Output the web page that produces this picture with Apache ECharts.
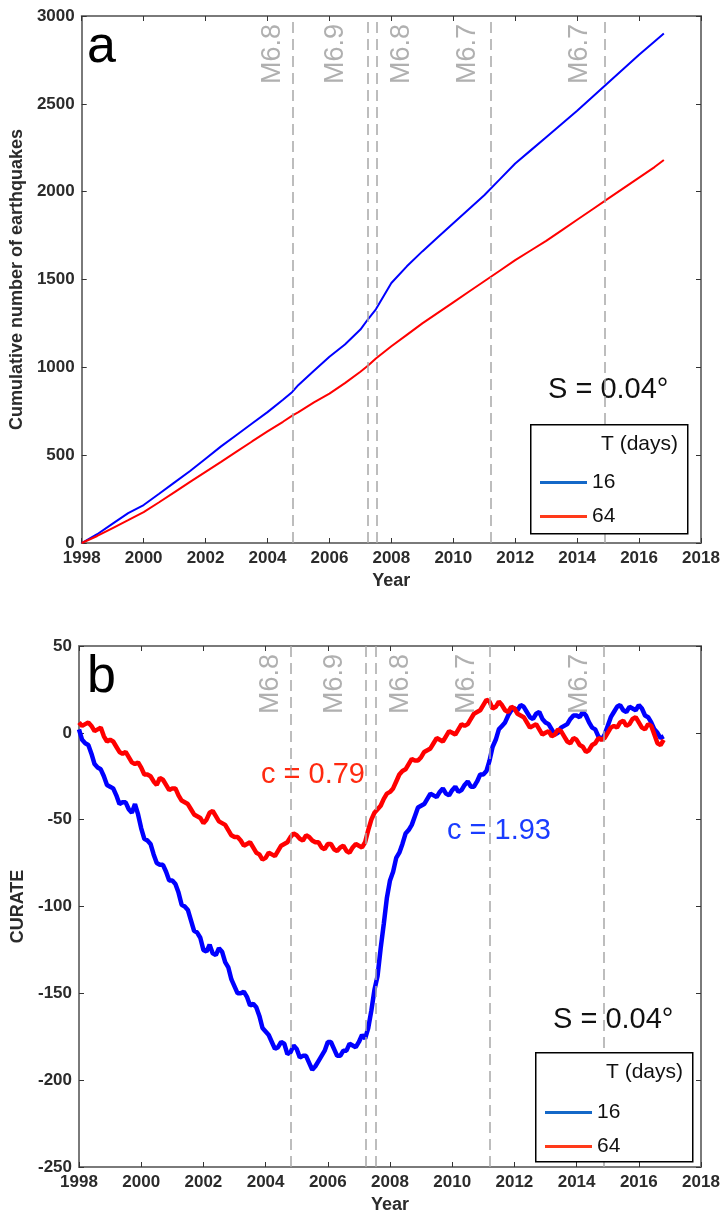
<!DOCTYPE html>
<html>
<head>
<meta charset="utf-8">
<script src="https://cdn.jsdelivr.net/npm/echarts@6/dist/echarts.min.js"></script>
<style>
html,body{margin:0;padding:0;background:#fff;}
#chart{width:724px;height:1215px;}
</style>
</head>
<body>
<div id="chart"></div>
<script>
// ---------- DATA ----------
// Panel a: cumulative number of earthquakes
const cumYears = [1998,1998.5,1999,1999.5,2000,2000.5,2001,2001.5,2002,2002.5,2003,2003.5,2004,2004.5,2004.8,2005,2005.5,2006,2006.5,2007,2007.25,2007.5,2008,2008.5,2009,2009.5,2010,2010.5,2011,2011.5,2012,2012.5,2013,2013.5,2014,2014.5,2015,2015.5,2016,2016.5,2016.8];
const cum16 = [0,50,110,170,216,280,345,410,480,550,615,680,745,815,860,900,980,1060,1130,1215,1275,1330,1480,1575,1660,1740,1820,1900,1980,2070,2160,2235,2310,2385,2460,2540,2620,2700,2780,2855,2900];
const cum64 = [0,40,85,130,176,232,290,348,405,462,520,578,635,690,725,745,800,850,910,975,1010,1050,1120,1185,1250,1310,1370,1430,1490,1550,1610,1665,1720,1780,1840,1900,1960,2020,2080,2140,2180];

// Panel b: CURATE (every 0.1 year)
const curYears = [
1998.0,1998.1,1998.2,1998.3,1998.4,1998.5,1998.6,1998.7,1998.8,1998.9,
1999.0,1999.1,1999.2,1999.3,1999.4,1999.5,1999.6,1999.7,1999.8,1999.9,
2000.0,2000.1,2000.2,2000.3,2000.4,2000.5,2000.6,2000.7,2000.8,2000.9,
2001.0,2001.1,2001.2,2001.3,2001.4,2001.5,2001.6,2001.7,2001.8,2001.9,
2002.0,2002.1,2002.2,2002.3,2002.4,2002.5,2002.6,2002.7,2002.8,2002.9,
2003.0,2003.1,2003.2,2003.3,2003.4,2003.5,2003.6,2003.7,2003.8,2003.9,
2004.0,2004.1,2004.2,2004.3,2004.4,2004.5,2004.6,2004.7,2004.8,2004.9,
2005.0,2005.1,2005.2,2005.3,2005.4,2005.5,2005.6,2005.7,2005.8,2005.9,
2006.0,2006.1,2006.2,2006.3,2006.4,2006.5,2006.6,2006.7,2006.8,2006.9,
2007.0,2007.1,2007.2,2007.3,2007.4,2007.5,2007.6,2007.7,2007.8,2007.9,
2008.0,2008.1,2008.2,2008.3,2008.4,2008.5,2008.6,2008.7,2008.8,2008.9,
2009.0,2009.1,2009.2,2009.3,2009.4,2009.5,2009.6,2009.7,2009.8,2009.9,
2010.0,2010.1,2010.2,2010.3,2010.4,2010.5,2010.6,2010.7,2010.8,2010.9,
2011.0,2011.1,2011.2,2011.3,2011.4,2011.5,2011.6,2011.7,2011.8,2011.9,
2012.0,2012.1,2012.2,2012.3,2012.4,2012.5,2012.6,2012.7,2012.8,2012.9,
2013.0,2013.1,2013.2,2013.3,2013.4,2013.5,2013.6,2013.7,2013.8,2013.9,
2014.0,2014.1,2014.2,2014.3,2014.4,2014.5,2014.6,2014.7,2014.8,2014.9,
2015.0,2015.1,2015.2,2015.3,2015.4,2015.5,2015.6,2015.7,2015.8,2015.9,
2016.0,2016.1,2016.2,2016.3,2016.4,2016.5,2016.6,2016.7,2016.8];
const cur16 = [
2,-4,-6,-7,-12,-18,-20,-21,-25,-30,
-31,-32,-36,-41,-40,-40,-44,-46,-41,-47,
-55,-61,-62,-64,-70,-75,-76,-76,-80,-85,
-85,-87,-92,-99,-100,-102,-108,-114,-115,-118,
-125,-126,-122,-127,-128,-124,-126,-132,-135,-142,
-146,-150,-150,-149,-152,-157,-156,-158,-163,-170,
-172,-174,-178,-182,-181,-178,-179,-185,-184,-180,
-182,-187,-186,-186,-190,-194,-192,-189,-186,-183,
-178,-178,-182,-186,-186,-183,-183,-179,-180,-181,
-178,-174,-176,-170,-160,-148,-140,-124,-110,-95,
-85,-80,-72,-69,-64,-58,-56,-53,-48,-43,
-42,-41,-38,-35,-36,-37,-34,-32,-35,-36,
-33,-31,-34,-33,-30,-28,-31,-31,-28,-24,
-24,-22,-16,-8,-4,2,4,6,10,13,
14,13,16,15,12,9,8,11,12,8,
6,5,2,-1,0,3,4,5,8,10,
10,9,12,10,6,3,2,-2,-4,-1,
4,9,12,15,16,13,12,15,14,13,
16,14,10,9,6,2,0,-3,-2];
const cur64 = [
6,4,5,6,4,1,2,3,-2,-5,
-4,-5,-8,-11,-12,-11,-14,-17,-18,-17,
-20,-24,-24,-25,-28,-30,-26,-27,-30,-33,
-32,-32,-36,-39,-40,-41,-44,-47,-48,-49,
-52,-50,-46,-45,-48,-51,-52,-53,-56,-59,
-60,-60,-62,-65,-64,-63,-66,-69,-70,-73,
-72,-69,-70,-71,-68,-65,-64,-63,-60,-58,
-59,-61,-62,-59,-60,-62,-63,-63,-66,-67,
-64,-64,-67,-68,-66,-65,-68,-69,-66,-64,
-65,-66,-63,-56,-50,-46,-44,-42,-38,-35,
-34,-32,-28,-24,-22,-21,-18,-15,-16,-16,
-14,-11,-10,-9,-6,-3,-4,-5,-2,1,
0,-1,2,5,4,5,8,11,12,13,
16,19,18,14,15,18,16,13,12,15,
14,11,10,9,6,3,4,5,2,-1,
0,1,-2,-1,2,1,-2,-5,-6,-3,
-4,-7,-8,-11,-10,-7,-6,-3,-4,-3,
0,3,4,3,6,7,4,5,8,9,
6,3,2,5,4,-1,-6,-7,-4];

// Earthquake events
const eventYears = [2004.81, 2007.23, 2007.54, 2011.2, 2014.88];
const eventLabels = ['M6.8', 'M6.9', 'M6.8', 'M6.7', 'M6.7'];

const xTicks = {min: 1998, max: 2018, interval: 2};
const seriesNames = ['16', '64'];

// ---------- CHART ----------
const FONT = 'Liberation Sans, Arial, Helvetica, sans-serif';
const AXIS_GRAY = '#7a7a7a';
const LABEL_COLOR = '#2b2b2b';
const chart = echarts.init(document.getElementById('chart'), null, {renderer: 'canvas'});

function pairs(xs, ys) { return xs.map((x, i) => [x, ys[i]]); }

function eventMarkLine() {
  return {
    silent: true,
    symbol: 'none',
    animation: false,
    lineStyle: {color: '#a8a8a8', type: [11, 6], width: 1.5},
    label: {
      show: true,
      position: 'insideEndTop',
      color: '#b0b0b0',
      fontSize: 27,
      fontFamily: FONT,
      distance: [8, 7]
    },
    data: eventYears.map((y, i) => {
      const item = {xAxis: y, label: {formatter: eventLabels[i]}};
      if (i === 1) item.label.distance = [8, 18];
      if (i === 2) { item.label.position = 'insideEndBottom'; item.label.distance = [8, 11]; }
      if (i === 3) item.label.distance = [8, 9];
      if (i === 4) item.label.distance = [8, 11];
      return item;
    })
  };
}

function xAxisPair(gridIndex) {
  return [
    {
      type: 'value', gridIndex, position: 'bottom', ...xTicks,
      name: 'Year', nameLocation: 'middle', nameGap: 29,
      nameTextStyle: {fontFamily: FONT, fontWeight: 'bold', fontSize: 18, color: LABEL_COLOR},
      axisLine: {onZero: false, lineStyle: {color: AXIS_GRAY, width: 2}},
      axisTick: {inside: true, length: 5, lineStyle: {color: '#333', width: 1}},
      axisLabel: {fontFamily: FONT, fontWeight: 'bold', fontSize: 17, color: LABEL_COLOR, margin: 7, formatter: v => String(v)},
      splitLine: {show: false}
    },
    {
      type: 'value', gridIndex, position: 'top', ...xTicks,
      axisLine: {onZero: false, lineStyle: {color: AXIS_GRAY, width: 2}},
      axisTick: {inside: true, length: 5, lineStyle: {color: '#333', width: 1}},
      axisLabel: {show: false},
      splitLine: {show: false}
    }
  ];
}

function yAxisPair(gridIndex, min, max, interval, name, nameGap) {
  return [
    {
      type: 'value', gridIndex, position: 'left', min, max, interval,
      name, nameLocation: 'middle', nameGap,
      nameTextStyle: {fontFamily: FONT, fontWeight: 'bold', fontSize: 18, color: LABEL_COLOR},
      axisLine: {show: true, onZero: false, lineStyle: {color: AXIS_GRAY, width: 2}},
      axisTick: {show: true, inside: true, length: 5, lineStyle: {color: '#333', width: 1}},
      axisLabel: {fontFamily: FONT, fontWeight: 'bold', fontSize: 17, color: LABEL_COLOR, margin: 7, formatter: v => String(v)},
      splitLine: {show: false}
    },
    {
      type: 'value', gridIndex, position: 'right', min, max, interval,
      axisLine: {show: true, onZero: false, lineStyle: {color: AXIS_GRAY, width: 2}},
      axisTick: {show: true, inside: true, length: 5, lineStyle: {color: '#333', width: 1}},
      axisLabel: {show: false},
      splitLine: {show: false}
    }
  ];
}

function legendAt(left, top) {
  return {
    left, top, orient: 'vertical', zlevel: 2, z: 10,
    icon: 'rect', itemWidth: 47, itemHeight: 3, itemGap: 13,
    selectedMode: false,
    textStyle: {fontFamily: FONT, fontSize: 21, color: '#111', lineHeight: 21},
    data: [
      {name: seriesNames[0], itemStyle: {color: '#1468c8'}},
      {name: seriesNames[1], itemStyle: {color: '#ff3a1a'}}
    ]
  };
}

function legendBox(x, y) {
  return [
    {type: 'rect', left: x, top: y, zlevel: 1, z: 100, shape: {width: 157, height: 109}, style: {fill: '#ffffff', stroke: '#000', lineWidth: 1.5}},
    {type: 'text', right: 724 - (x + 148), top: y + 10, zlevel: 1, z: 101, style: {text: 'T (days)', font: '21px ' + FONT, fill: '#111'}}
  ];
}

const option = {
  animation: false,
  backgroundColor: '#fff',
  grid: [
    {left: 79, width: 622, top: 16, height: 527},
    {left: 79, width: 622, top: 646, height: 527}
  ],
  xAxis: [...xAxisPair(0), ...xAxisPair(1)],
  yAxis: [
    ...yAxisPair(0, 0, 3000, 500, 'Cumulative number of earthquakes', 52),
    ...yAxisPair(1, -250, 50, 50, 'CURATE', 50)
  ],
  legend: [legendAt(535, 467), legendAt(540, 1097)],
  series: [
    {name: seriesNames[0], type: 'line', xAxisIndex: 0, yAxisIndex: 0, showSymbol: false, symbol: 'none',
     lineStyle: {color: '#0000ff', width: 2}, itemStyle: {color: '#0000ff'}, data: pairs(cumYears, cum16), z: 3,
     markLine: eventMarkLine()},
    {name: seriesNames[1], type: 'line', xAxisIndex: 0, yAxisIndex: 0, showSymbol: false, symbol: 'none',
     lineStyle: {color: '#ff0000', width: 2}, itemStyle: {color: '#ff0000'}, data: pairs(cumYears, cum64), z: 3},
    {name: seriesNames[0], type: 'line', xAxisIndex: 2, yAxisIndex: 2, showSymbol: false, symbol: 'none',
     lineStyle: {color: '#0000ff', width: 4.5}, itemStyle: {color: '#0000ff'}, data: pairs(curYears, cur16), z: 3,
     markLine: eventMarkLine()},
    {name: seriesNames[1], type: 'line', xAxisIndex: 2, yAxisIndex: 2, showSymbol: false, symbol: 'none',
     lineStyle: {color: '#ff0000', width: 4.5}, itemStyle: {color: '#ff0000'}, data: pairs(curYears, cur64), z: 3}
  ],
  graphic: {
    elements: [
      {type: 'text', left: 87, top: 22, style: {text: 'a', font: '52px ' + FONT, fill: '#000'}},
      {type: 'text', left: 87, top: 652, style: {text: 'b', font: '52px ' + FONT, fill: '#000'}},
      {type: 'text', left: 548, top: 375, style: {text: 'S = 0.04°', font: '29px ' + FONT, fill: '#111'}},
      {type: 'text', left: 553, top: 1005, style: {text: 'S = 0.04°', font: '29px ' + FONT, fill: '#111'}},
      {type: 'text', left: 261, top: 760, style: {text: 'c = 0.79', font: '29px ' + FONT, fill: '#ff2a10'}},
      {type: 'text', left: 447, top: 816, style: {text: 'c = 1.93', font: '29px ' + FONT, fill: '#1a3cff'}},
      ...legendBox(530, 424),
      ...legendBox(535, 1052)
    ]
  }
};
chart.setOption(option);
</script>
</body>
</html>
